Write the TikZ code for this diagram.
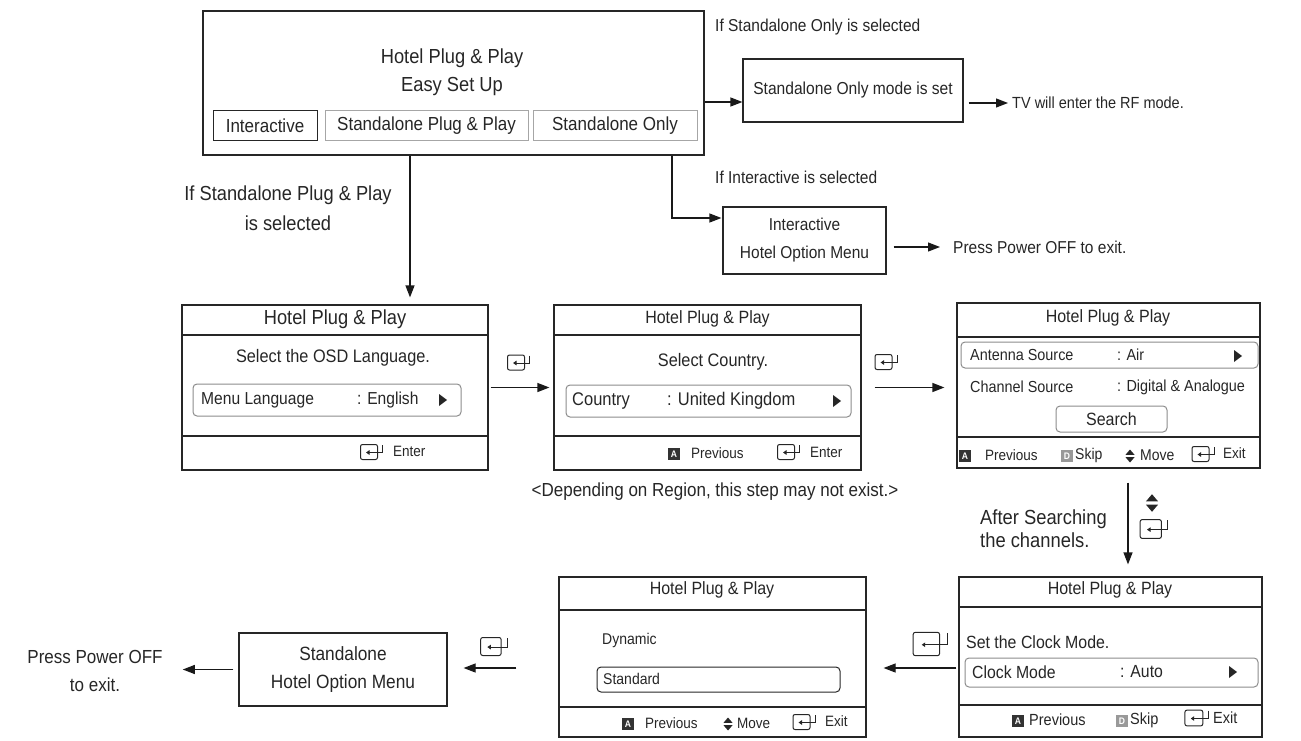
\documentclass[tikz,border=0pt]{standalone}
\usepackage{fontspec}
\setmainfont[FakeStretch=0.9]{Liberation Sans}
\usetikzlibrary{arrows.meta}

\tikzset{
  every node/.style={inner sep=0pt, text=black!85},
  fs/.style={font=\fontsize{\fpeval{#1/0.9}}{\fpeval{#1/0.9}}\selectfont},
  panel/.style={draw=black!85, line width=1.2pt},
  optbtn/.style={draw=black!35, line width=1pt, minimum height=30pt},
  selbox/.style={draw=black!45, line width=1pt, rounded corners=4pt},
  badge/.style={fill=black!80, text=white, minimum width=12pt, minimum height=12pt, font=\fontsize{9.5}{10}\bfseries\selectfont},
  arr/.style={line width=1.2pt, draw=black!90, -{Triangle[length=12pt,width=9pt]}},
  enterkey/.pic={
    \draw[black!85, line width=1pt, rounded corners=2pt] (-11.5,-7.5) rectangle (5.5,7.5);
    \draw[black!85, line width=1pt, -{Triangle[length=3.5pt,width=4.5pt]}] (10.5,-7) |- (-6,0.5);
  },
  updown/.pic={
    \fill[black!85] (-4.5,-1.2) -- (4.5,-1.2) -- (0,-6.5) -- cycle;
    \fill[black!85] (-4.5,1.2) -- (4.5,1.2) -- (0,6.5) -- cycle;
  },
  rtri/.pic={
    \fill[black!85] (-4,-6) -- (4,0) -- (-4,6) -- cycle;
  },
}

\begin{document}
\begin{tikzpicture}[x=1pt, y=-1pt]
        \useasboundingbox (0,0) rectangle (1301,741);

        % easy set up
        \node[panel, minimum width=501, minimum height=144] (easy) at (453.5,83) {};
        \node[fs=18.3] (easyt) at (452,58) {Hotel Plug \& Play};
        \node[fs=18.3] (easys) at (452,87) {Easy Set Up};
        \node[optbtn, fs=17, draw=black!85, minimum width=104] (obi) at (265,126) {Interactive};
        \node[optbtn, fs=17, minimum width=203] (obp) at (426.5,126) {Standalone Plug \& Play};
        \node[optbtn, fs=17, minimum width=164] (obo) at (615,126) {Standalone Only};

        % standalone only
        \node[fs=15.5, anchor=west] (ifo) at (715,27) {If Standalone Only is selected};
        \node[panel, fs=15.6, minimum width=220, minimum height=63] (solo) at (853,90.5) {Standalone Only mode is set};
        \node[fs=14.5, anchor=west] (rf) at (1012,103) {TV will enter the RF mode.};
        \coordinate (soloin) at ([yshift=-11.5]solo.west);
        \draw[arr] (easy.east |- soloin) -- (soloin);
        \draw[arr, shorten <=5pt, shorten >=4pt] (solo.east |- rf.west) -- (rf.west);

        % interactive
        \node[fs=15.5, anchor=west] (ifi) at (715,177) {If Interactive is selected};
        \node[panel, minimum width=163, minimum height=67, align=center, font=\fontsize{17.2}{28}\selectfont] (inter) at (804.5,240.5) {Interactive\\Hotel Option Menu};
        \node[fs=15.5, anchor=west] (pex) at (953,247) {Press Power OFF to exit.};
        \coordinate (interin) at ([yshift=22.5]inter.west);
        \draw[arr, shorten >=1pt] ([xshift=218.5]easy.south) |- (interin);
        \draw[arr, shorten <=7pt, shorten >=13pt] (inter.east |- pex.west) -- (pex.west);

        % OSD language
        \node[align=center, font=\fontsize{20.3}{30}\selectfont] (ifp) at (288,208) {If Standalone Plug \& Play\\is selected};
        \node[panel, minimum width=306, minimum height=165] (lang) at (335,387.5) {};
        \draw[panel] (lang.west |- 0,335) -- (lang.east |- 0,335);
        \draw[panel] (lang.west |- 0,436) -- (lang.east |- 0,436);
        \node[fs=18.3] (langt) at (335,319) {Hotel Plug \& Play};
        \node[fs=16.3] (langq) at (333,358) {Select the OSD Language.};
        \node[selbox, minimum width=268, minimum height=32] (langsel) at (327,400) {};
        \node[fs=15.6, anchor=west] (langk) at (201,400) {Menu Language};
        \node[fs=15.6, anchor=west] (langv) at (357,400) {: English};
        \pic at (443,400) {rtri};
        \pic at (372,452) {enterkey};
        \node[fs=13.5, anchor=west] (lange) at (393,451) {Enter};
        \draw[arr, shorten >=7pt] ([xshift=-43.5]easy.south) -- ([xshift=-43.5]easy.south |- lang.north);

        % country
        \node[panel, minimum width=307, minimum height=165] (country) at (707.5,387.5) {};
        \draw[panel] (country.west |- 0,335) -- (country.east |- 0,335);
        \draw[panel] (country.west |- 0,436) -- (country.east |- 0,436);
        \node[fs=16] (ctyt) at (707.5,319) {Hotel Plug \& Play};
        \node[fs=16.3] (ctyq) at (713,362) {Select Country.};
        \node[selbox, minimum width=285, minimum height=32] (ctysel) at (708.5,401) {};
        \node[fs=16.5, anchor=west] (ctyk) at (572,401) {Country};
        \node[fs=16.5, anchor=west] (ctyv) at (667,401) {: United Kingdom};
        \pic at (837,401) {rtri};
        \node[badge] (ctya) at (674,454) {A};
        \node[fs=13.5, anchor=west] (ctyp) at (691,453) {Previous};
        \pic at (789,452) {enterkey};
        \node[fs=13.5, anchor=west] (ctye) at (810,452) {Enter};
        \node[fs=17] (dep) at (715,492) {<Depending on Region, this step may not exist.>};
        \draw[arr, shorten <=2pt, shorten >=4pt] (lang.east) -- (country.west);
        \pic at (519,362.5) {enterkey};

        % antenna
        \node[panel, minimum width=303, minimum height=165] (ant) at (1108.5,385.5) {};
        \draw[panel] (ant.west |- 0,337) -- (ant.east |- 0,337);
        \draw[panel] (ant.west |- 0,437) -- (ant.east |- 0,437);
        \node[fs=16] (antt) at (1108,318) {Hotel Plug \& Play};
        \node[selbox, minimum width=297, minimum height=26] (antsel) at (1109.5,355) {};
        \node[fs=14.4, anchor=west] (antk) at (970,355) {Antenna Source};
        \node[fs=14.4, anchor=west] (antv) at (1117,355) {: Air};
        \pic at (1238,356) {rtri};
        \node[fs=14.4, anchor=west] (chk) at (970,387) {Channel Source};
        \node[fs=14.4, anchor=west] (chv) at (1117,387) {: Digital \& Analogue};
        \node[selbox, fs=16, minimum width=111, minimum height=26] (search) at (1111.5,419) {Search};
        \node[badge] (anta) at (965,456) {A};
        \node[fs=13.5, anchor=west] (antp) at (985,455) {Previous};
        \node[badge, fill=black!40] (antd) at (1067,456) {D};
        \node[fs=14, anchor=west] (ants) at (1075,455) {Skip};
        \pic at (1130,456) {updown};
        \node[fs=14, anchor=west] (antm) at (1140,455) {Move};
        \pic at (1203.5,454) {enterkey};
        \node[fs=13.5, anchor=west] (ante) at (1223,453) {Exit};
        \draw[arr, shorten <=13pt, shorten >=12pt] (country.east) -- (country.east -| ant.west);
        \pic at (886.5,362) {enterkey};

        % clock
        \node[panel, minimum width=303, minimum height=160] (clock) at (1110.5,657) {};
        \draw[panel] (clock.west |- 0,607) -- (clock.east |- 0,607);
        \draw[panel] (clock.west |- 0,705) -- (clock.east |- 0,705);
        \node[fs=16] (clkt) at (1110,590) {Hotel Plug \& Play};
        \node[fs=15.9, anchor=west] (clkq) at (966,642) {Set the Clock Mode.};
        \node[selbox, minimum width=293, minimum height=29] (clksel) at (1111.5,672.5) {};
        \node[fs=15.8, anchor=west] (clkk) at (972,672) {Clock Mode};
        \node[fs=15.8, anchor=west] (clkv) at (1120,672) {: Auto};
        \pic at (1233,672) {rtri};
        \node[badge] (clka) at (1018,721) {A};
        \node[fs=14.5, anchor=west] (clkp) at (1029,720) {Previous};
        \node[badge, fill=black!40] (clkd) at (1122,721) {D};
        \node[fs=14.5, anchor=west] (clks) at (1130,720) {Skip};
        \pic[scale=1.05] at (1197,718) {enterkey};
        \node[fs=14.5, anchor=west] (clke) at (1213,718) {Exit};
        \node[align=left, anchor=west, font=\fontsize{20.4}{23}\selectfont] (after) at (980,528.5) {After Searching\\the channels.};
        \draw[arr, shorten <=14pt, shorten >=12pt] ([xshift=19.5]ant.south) -- ([xshift=19.5]ant.south |- clock.north);
        \pic[scale=1.35] at (1152,503) {updown};
        \pic[scale=1.25] at (1154.5,529) {enterkey};

        % picture mode
        \node[panel, minimum width=307, minimum height=160] (pmode) at (712.5,657) {};
        \draw[panel] (pmode.west |- 0,610) -- (pmode.east |- 0,610);
        \draw[panel] (pmode.west |- 0,707) -- (pmode.east |- 0,707);
        \node[fs=16] (pmt) at (712,590) {Hotel Plug \& Play};
        \node[fs=14, anchor=west] (pmd) at (602,640) {Dynamic};
        \node[selbox, draw=black!85, minimum width=243, minimum height=25] (pmsel) at (718.5,679.5) {};
        \node[fs=14, anchor=west] (pms) at (603,679) {Standard};
        \node[badge] (pma) at (628,724) {A};
        \node[fs=13.5, anchor=west] (pmp) at (645,723) {Previous};
        \pic at (728,724) {updown};
        \node[fs=13.5, anchor=west] (pmm) at (737,723) {Move};
        \pic at (804.5,722) {enterkey};
        \node[fs=13.5, anchor=west] (pme) at (825,721) {Exit};
        \coordinate (clockout) at ([yshift=-11]clock.west);
        \draw[arr, shorten <=2pt, shorten >=17pt] (clockout) -- (clockout -| pmode.east);
        \pic[scale=1.55] at (931,644) {enterkey};

        % standalone menu
        \node[panel, minimum width=208, minimum height=73, align=center, font=\fontsize{19.2}{28}\selectfont] (salone) at (343,669.5) {Standalone\\Hotel Option Menu};
        \node[align=center, font=\fontsize{18.9}{28}\selectfont] (pex2) at (95,671) {Press Power OFF\\to exit.};
        \coordinate (pmodeout) at ([yshift=-11]pmode.west);
        \draw[arr, shorten <=42pt, shorten >=16pt] (pmodeout) -- (pmodeout -| salone.east);
        \pic[scale=1.2] at (494.5,646.5) {enterkey};
        \draw[arr, shorten <=5pt, shorten >=20pt] (salone.west) -- (salone.west -| pex2.east);
    \end{tikzpicture}
\end{document}
